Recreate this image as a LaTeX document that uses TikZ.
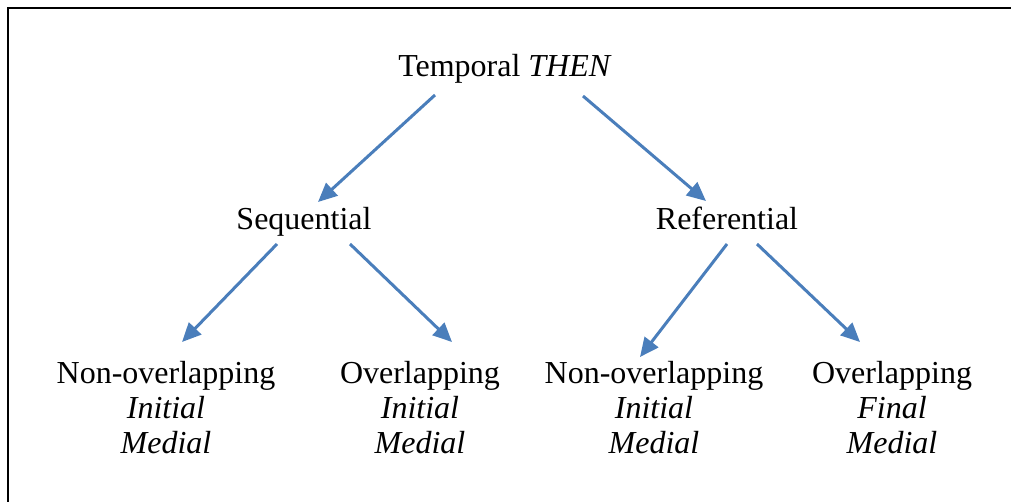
\documentclass[tikz,border=0pt]{standalone}
\usepackage{fontspec}
\setmainfont{Liberation Serif}
\usepackage{tikz}
\usetikzlibrary{calc,arrows.meta,positioning}
\usepackage{xcolor}
\definecolor{wblue}{HTML}{4A7EBB}
\tikzstyle{label}=[anchor=base, inner sep=0pt, align=center, font=\fontsize{16}{17.5}\selectfont]
\tikzstyle{l1}=[line width=1.5pt, draw=wblue, -{Triangle[length=9.5pt,width=8.5pt]}]
\begin{document}
\begin{tikzpicture}[x=0.5pt, y=-0.5pt]

    \useasboundingbox (0,0) rectangle (1011,502);
    \draw[line width=1pt] (8,502) -- (8,8) -- (1011,8);

    \node[label] at (505,77) (top) {Temporal \textit{THEN}};
    \node[label] at (304,230) (seq) {Sequential};
    \node[label] at (727,230) (ref) {Referential};
    \node[label] at (166,453) (nov1) {Non-overlapping\\\textit{Initial}\\\textit{Medial}};
    \node[label] at (420,453) (ov1) {Overlapping\\\textit{Initial}\\\textit{Medial}};
    \node[label] at (654,453) (nov2) {Non-overlapping\\\textit{Initial}\\\textit{Medial}};
    \node[label] at (892,453) (ov2) {Overlapping\\\textit{Final}\\\textit{Medial}};

    \draw[l1] ($(top.base)+(-70,18)$) -- ($(seq.base)+(14,-28)$);
    \draw[l1] ($(top.base)+(78,19)$) -- ($(ref.base)+(-21,-29)$);
    \draw[l1] ($(seq.base)+(-27,14)$) -- ($(nov1.base)+(16,-111)$);
    \draw[l1] ($(seq.base)+(46,14)$) -- ($(ov1.base)+(32,-111)$);
    \draw[l1] ($(ref.base)+(0,14)$) -- ($(nov2.base)+(-14,-96)$);
    \draw[l1] ($(ref.base)+(30,14)$) -- ($(ov2.base)+(-32,-111)$);

\end{tikzpicture}
\end{document}
